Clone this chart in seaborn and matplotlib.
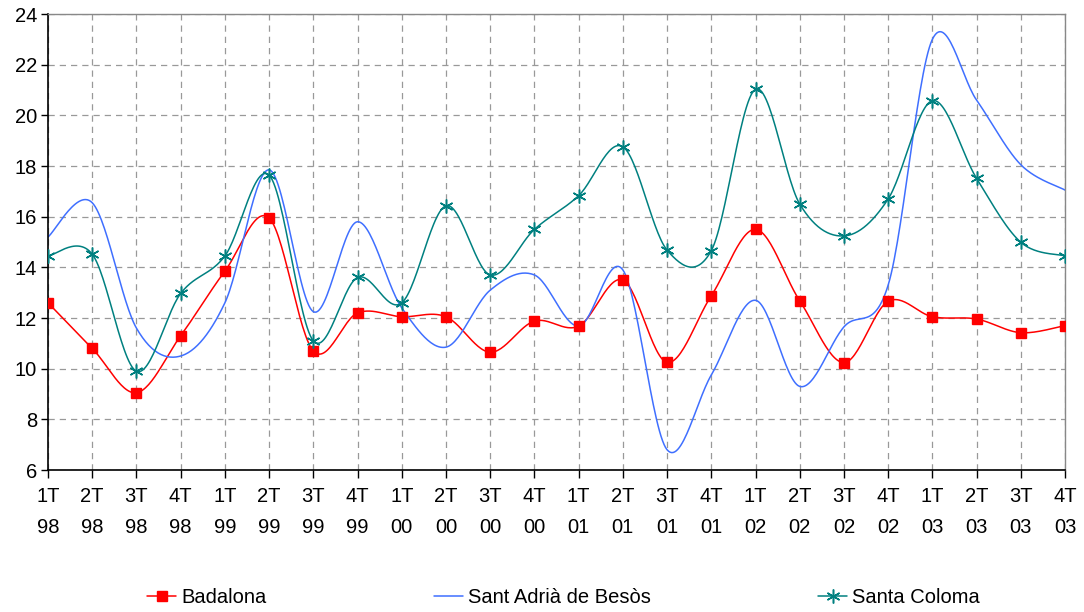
import numpy as np
import pandas as pd
import matplotlib
matplotlib.use("Agg")
import matplotlib.pyplot as plt
from matplotlib.lines import Line2D
import seaborn as sns

# -------------------------------
# DATA
# -------------------------------
quarters = ["1T\n98", "2T\n98", "3T\n98", "4T\n98",
            "1T\n99", "2T\n99", "3T\n99", "4T\n99",
            "1T\n00", "2T\n00", "3T\n00", "4T\n00",
            "1T\n01", "2T\n01", "3T\n01", "4T\n01",
            "1T\n02", "2T\n02", "3T\n02", "4T\n02",
            "1T\n03", "2T\n03", "3T\n03", "4T\n03"]

badalona = [12.6, 10.8, 9.05, 11.3, 13.85, 15.95, 10.7, 12.2,
            12.05, 12.05, 10.65, 11.88, 11.68, 13.5, 10.25, 12.88,
            15.5, 12.68, 10.24, 12.66, 12.05, 11.96, 11.42, 11.7]

sant_adria = [15.2, 16.55, 11.6, 10.5, 12.6, 17.85, 12.25, 15.8,
              12.4, 10.85, 13.1, 13.7, 11.68, 13.9, 6.8, 9.75,
              12.7, 9.3, 11.65, 13.3, 23.0, 20.6, 18.05, 17.05]

santa_coloma = [14.45, 14.52, 9.9, 12.97, 14.45, 17.64, 11.1, 13.6,
                12.6, 16.43, 13.7, 15.5, 16.83, 18.76, 14.68, 14.66,
                21.03, 16.5, 15.24, 16.7, 20.58, 17.51, 14.99, 14.45]

names = ["Badalona", "Sant Adrià de Besòs", "Santa Coloma"]
colors = ["#FF0000", "#3F6FFF", "#008080"]


# -------------------------------
# SMOOTH CURVES (Bezier like spreadsheet "smoothed line")
# -------------------------------
def smooth(values, n=30):
    y = np.asarray(values, dtype=float)
    x = np.arange(len(y), dtype=float)
    pts = np.column_stack([x, y])
    out = []
    t = np.linspace(0, 1, n)[:, None]
    for i in range(len(pts) - 1):
        p0 = pts[max(i - 1, 0)]
        p1 = pts[i]
        p2 = pts[i + 1]
        p3 = pts[min(i + 2, len(pts) - 1)]
        c1 = p1 + (p2 - p0) / 6
        c2 = p2 - (p3 - p1) / 6
        seg = ((1 - t) ** 3) * p1 + 3 * ((1 - t) ** 2) * t * c1 \
            + 3 * (1 - t) * t ** 2 * c2 + t ** 3 * p2
        out.append(seg if i == 0 else seg[1:])
    return np.vstack(out)


frames = []
for name, vals in zip(names, [badalona, sant_adria, santa_coloma]):
    s = smooth(vals)
    frames.append(pd.DataFrame({"x": s[:, 0], "y": s[:, 1], "serie": name}))
curves = pd.concat(frames, ignore_index=True)

points = pd.DataFrame({
    "x": list(range(len(quarters))) * 2,
    "y": badalona + santa_coloma,
    "serie": ["Badalona"] * len(quarters) + ["Santa Coloma"] * len(quarters),
})

# -------------------------------
# PLOT
# -------------------------------
sns.set_theme(style="white", rc={"text.color": "black",
                                 "xtick.color": "black",
                                 "ytick.color": "black"})
plt.rcParams["font.family"] = ["Liberation Sans", "DejaVu Sans"]

fig = plt.figure(figsize=(10.84, 6.12), dpi=100)
ax = fig.add_axes([0.0443, 0.232, 0.9382, 0.7451])

sns.lineplot(data=curves, x="x", y="y", hue="serie", hue_order=names,
             palette=colors, sort=False, estimator=None, units="serie",
             linewidth=1.1, legend=False, ax=ax)

bad = points[points.serie == "Badalona"]
col = points[points.serie == "Santa Coloma"]
ax.plot(bad.x, bad.y, linestyle="none", marker="s", markersize=6.5,
        color=colors[0], zorder=5)
ax.plot(col.x, col.y, linestyle="none", marker=(6, 2, 0), markersize=10,
        markeredgewidth=1.1, color=colors[2], zorder=5)

ax.set_xlim(0, len(quarters) - 1)
ax.set_ylim(6, 24)
ax.set_yticks(range(6, 25, 2))
ax.set_xticks(range(len(quarters)))
ax.set_xticklabels(quarters, fontsize=14.5, linespacing=1.85)
ax.tick_params(axis="y", labelsize=14.5, length=5, width=1, color="black",
               labelcolor="black", direction="out", left=True, pad=3)
ax.tick_params(axis="x", length=6, width=1, color="black",
               labelcolor="black", direction="out", bottom=True, pad=6)
ax.set_xlabel("")
ax.set_ylabel("")

ax.grid(True, color="#999999", linestyle=(0, (5, 4)), linewidth=0.9)
ax.set_axisbelow(True)
for side in ["left", "bottom"]:
    ax.spines[side].set_color("black")
    ax.spines[side].set_linewidth(1.2)
for side in ["top", "right"]:
    ax.spines[side].set_color("#888888")
    ax.spines[side].set_linewidth(1.0)

handles = [
    Line2D([], [], color=colors[0], marker="s", markersize=6.5, linewidth=1.1),
    Line2D([], [], color=colors[1], linewidth=1.1),
    Line2D([], [], color=colors[2], marker=(6, 2, 0), markersize=10,
           markeredgewidth=1.1, linewidth=1.1),
]
fig.legend(handles, names, loc="lower center", bbox_to_anchor=(0.52, -0.022),
           ncol=3, frameon=False, fontsize=14.5, handlelength=1.45,
           handletextpad=0.25, columnspacing=8.3, labelcolor="black")

fig.savefig("out.png", dpi=100)
